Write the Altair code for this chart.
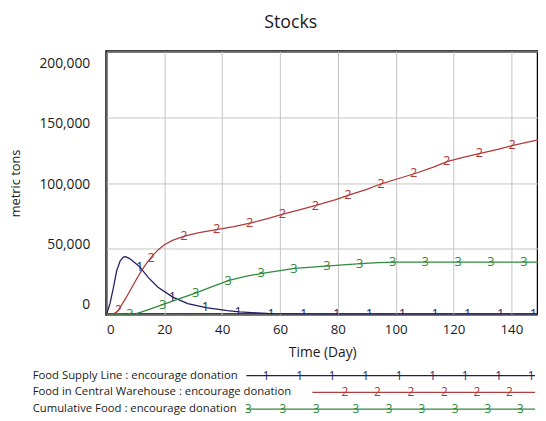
import altair as alt
import pandas as pd

# ---------------- data ----------------
chart_title = "Stocks"
series_names = [
    "Food Supply Line : encourage donation",
    "Food in Central Warehouse : encourage donation",
    "Cumulative Food : encourage donation",
]
series_digits = ["1", "2", "3"]
series_colors = ["#1e1e64", "#b03c3c", "#2f8a3c"]

supply_day = [0, 1.2, 2.4, 3.5, 4.7, 5.8, 6.6, 8, 10, 11.5, 14.4, 17.8, 22.9, 28.1,
              34.4, 41.8, 46, 52, 57, 65, 75, 90, 150]
supply_val = [0, 8200, 20700, 33200, 40700, 43700, 44000, 42500, 39000, 36200, 28200,
              20700, 13200, 8200, 5300, 3000, 2000, 1200, 700, 300, 100, 0, 0]

warehouse_day = [0, 2, 3, 4, 6, 8, 10, 12, 14, 16, 18, 20, 23, 27, 32, 38, 44, 50, 56,
                 61, 67, 73, 79, 84, 90, 95, 101, 107, 113, 118, 124, 130, 136, 141,
                 146, 150]
warehouse_val = [0, 200, 1200, 3000, 10000, 17500, 25500, 33000, 39500, 45000, 49500,
                 53000, 56500, 59500, 62200, 64500, 66800, 69700, 73000, 76400, 79700,
                 83300, 87200, 91000, 95200, 99400, 103400, 107400, 112000, 116400,
                 119800, 122800, 126000, 128800, 131300, 133100]

cumulative_day = [0, 8, 10, 12, 14, 16, 19.4, 25, 31, 37, 42.4, 48, 53.8, 60, 65, 71,
                  77, 83, 88, 94, 100, 150]
cumulative_val = [0, 0, 400, 1800, 3300, 4900, 7500, 11800, 16500, 21500, 26000, 29000,
                  31300, 33300, 35000, 36000, 37000, 37900, 38700, 39400, 39800, 39900]

supply_marker_day = [11.5, 22.8, 34.2, 45.5, 56.9, 68.2, 79.6, 90.9, 102.3, 113.6,
                     124.9, 136.3, 147.6]
supply_marker_val = [36200, 13200, 5300, 2000, 700, 250, 100, 0, 0, 0, 0, 0, 0]
warehouse_marker_day = [4.1, 15.4, 26.8, 38.1, 49.5, 60.8, 72.2, 83.5, 94.9, 106.2,
                        117.6, 128.9, 140.3]
warehouse_marker_val = [3200, 43200, 59400, 64600, 69600, 76300, 82800, 90700, 99300,
                        107300, 116600, 122900, 128800]
cumulative_marker_day = [8.1, 19.4, 30.8, 42.1, 53.5, 64.8, 76.2, 87.5, 98.9, 110.2,
                         121.6, 132.9, 144.3]
cumulative_marker_val = [0, 7500, 16500, 25800, 31200, 34900, 36800, 38600, 39800,
                         39900, 39900, 39900, 39900]

x_ticks = list(range(0, 150, 10))
y_ticks = [0, 50000, 100000, 150000, 200000]

# ---------------- tables ----------------
lines = pd.concat([
    pd.DataFrame({"day": supply_day, "value": supply_val, "series": series_names[0], "order": range(len(supply_day))}),
    pd.DataFrame({"day": warehouse_day, "value": warehouse_val, "series": series_names[1], "order": range(len(warehouse_day))}),
    pd.DataFrame({"day": cumulative_day, "value": cumulative_val, "series": series_names[2], "order": range(len(cumulative_day))}),
])
markers = pd.concat([
    pd.DataFrame({"day": supply_marker_day, "value": supply_marker_val, "series": series_names[0], "digit": "1"}),
    pd.DataFrame({"day": warehouse_marker_day, "value": warehouse_marker_val, "series": series_names[1], "digit": "2"}),
    pd.DataFrame({"day": cumulative_marker_day, "value": cumulative_marker_val, "series": series_names[2], "digit": "3"}),
])

# ---------------- layout ----------------
W, H = 438, 267
FONT = "Open Sans"
TXT = "#1a1a1a"
color_scale = alt.Scale(domain=series_names, range=series_colors)
x_enc = alt.X("day:Q", scale=alt.Scale(domain=[0, 149.2], nice=False),
              axis=alt.Axis(values=x_ticks, title="Time (Day)",
                            labelExpr="datum.value % 20 == 0 ? format(datum.value, 'd') : ''",
                            labelFontSize=13.5, labelPadding=8, titleFontSize=14,
                            titleFontWeight="normal", titleBaseline="middle", titleY=39))
y_enc = alt.Y("value:Q", scale=alt.Scale(domain=[0, 200000], nice=False),
              axis=alt.Axis(values=y_ticks, format=",.0f", title="metric tons",
                            labelFontSize=14, labelPadding=17,
                            labelOffset=alt.ExprRef("1.3 + (datum.value - 100000) * 0.000113"),
                            titleFontSize=13, titleFontWeight="normal",
                            titleX=-92, titleBaseline="middle"))

base_lines = alt.Chart(lines).mark_line(strokeWidth=1.3, clip=True).encode(
    x=x_enc, y=y_enc,
    color=alt.Color("series:N", scale=color_scale, legend=None),
    detail="series:N", order="order:Q",
)
base_marks = alt.Chart(markers).mark_text(font=FONT, fontSize=13, baseline="middle",
                                          align="center", clip=True).encode(
    x="day:Q", y="value:Q", text="digit:N",
    color=alt.Color("series:N", scale=color_scale, legend=None),
)

one = alt.Data(values=[{"a": 1}])
title_layer = alt.Chart(one).mark_text(font=FONT, fontSize=18, align="center",
                                       baseline="middle", color=TXT).encode(
    x=alt.value(187), y=alt.value(-29), text=alt.value(chart_title))

# legend (drawn below the plot, positions in pixels relative to plot origin)
row_y = [329, 346, 363]
text_x = -75
line_x0 = [142, 209, 142]
line_x1 = 435
digit_x = [
    [162, 196, 229, 263, 297, 331, 364, 398, 431],
    [242, 275, 309, 343, 376, 409],
    [144, 179, 213, 253, 287, 320, 354, 387, 420],
]
legend_layers = []
for i, name in enumerate(series_names):
    legend_layers.append(alt.Chart(one).mark_text(font=FONT, fontSize=11.5, align="left",
                                                  baseline="middle", color=TXT).encode(
        x=alt.value(text_x), y=alt.value(row_y[i]), text=alt.value(name)))
    legend_layers.append(alt.Chart(one).mark_rule(color=series_colors[i], strokeWidth=1.3).encode(
        x=alt.value(line_x0[i]), x2=alt.value(line_x1), y=alt.value(row_y[i])))
    for dx in digit_x[i]:
        legend_layers.append(alt.Chart(one).mark_text(font=FONT, fontSize=12, align="center",
                                                      baseline="middle", color=series_colors[i]).encode(
            x=alt.value(dx), y=alt.value(row_y[i]), text=alt.value(series_digits[i])))

chart = alt.layer(base_lines, base_marks, title_layer, *legend_layers).properties(
    width=W, height=H,
    autosize=alt.AutoSizeParams(type="none"),
    padding={"left": 100, "top": 41, "right": 0, "bottom": 105},
).configure_view(
    stroke="black", strokeWidth=2.5,
).configure_axis(
    labelFont=FONT, titleFont=FONT, labelColor=TXT, titleColor=TXT,
    domain=False, ticks=False, grid=True, gridColor="#c4c4c4", gridWidth=1,
)

chart.save("out.html", embed_options={"renderer": "svg", "actions": False})
